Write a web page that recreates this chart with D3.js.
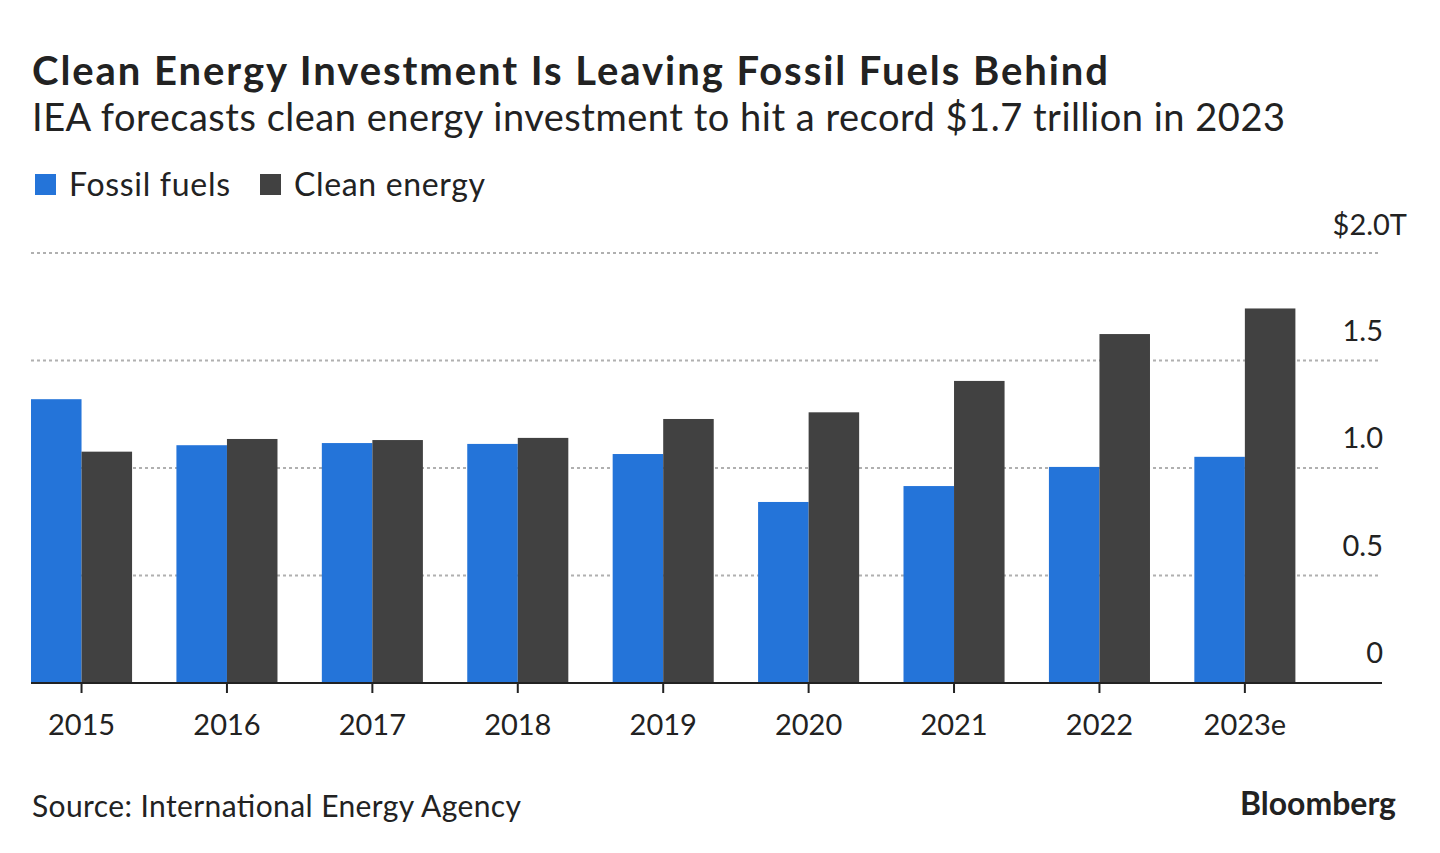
<!DOCTYPE html>
<html>
<head>
<meta charset="utf-8">
<script src="https://cdn.jsdelivr.net/npm/d3@7"></script>
<style>
  body { margin: 0; background: #fff; }
  text { font-family: Lato, "Noto Sans", sans-serif; fill: #222; }
</style>
</head>
<body>
<div id="chart"></div>
<script>
// Data (USD trillions)
var years = ["2015", "2016", "2017", "2018", "2019", "2020", "2021", "2022", "2023e"];
var fossil = [1.32, 1.106, 1.116, 1.112, 1.065, 0.842, 0.916, 1.005, 1.052];
var clean = [1.076, 1.135, 1.13, 1.14, 1.228, 1.259, 1.405, 1.623, 1.742];
var yTicks = [0, 0.5, 1.0, 1.5, 2.0];
var seriesNames = ["Fossil fuels", "Clean energy"];
var colors = ["#2474d9", "#414141"];

var width = 1440, height = 853;

var svg = d3.select("#chart")
    .append("svg")
    .attr("width", width)
    .attr("height", height);

// Scales
var x = d3.scaleBand()
    .domain(years)
    .range([31, 1295.4])
    .paddingInner(0.305)
    .paddingOuter(0);

var x1 = d3.scaleBand()
    .domain(seriesNames)
    .range([0, x.bandwidth()]);

var y = d3.scaleLinear()
    .domain([0, 2])
    .range([683, 253]);

// Grid lines
svg.append("g")
    .selectAll("line")
    .data(yTicks.filter(t => t > 0))
    .enter()
    .append("line")
    .attr("x1", 31)
    .attr("x2", 1381)
    .attr("y1", d => y(d))
    .attr("y2", d => y(d))
    .attr("stroke", "#b0b0b0")
    .attr("stroke-width", 2)
    .attr("stroke-dasharray", "3,3");

// Bars
var groups = svg.append("g")
    .selectAll("g")
    .data(years)
    .enter()
    .append("g")
    .attr("transform", d => "translate(" + x(d) + ",0)");

groups.append("rect")
    .attr("x", x1("Fossil fuels"))
    .attr("width", x1.bandwidth())
    .attr("y", (d, i) => y(fossil[i]))
    .attr("height", (d, i) => y(0) - y(fossil[i]))
    .attr("fill", colors[0]);

groups.append("rect")
    .attr("x", x1("Clean energy"))
    .attr("width", x1.bandwidth())
    .attr("y", (d, i) => y(clean[i]))
    .attr("height", (d, i) => y(0) - y(clean[i]))
    .attr("fill", colors[1]);

// X axis
var xAxis = svg.append("g")
    .attr("transform", "translate(0," + y(0) + ")")
    .call(d3.axisBottom(x).tickSize(10).tickPadding(21).tickSizeOuter(0));
xAxis.select(".domain").remove();
xAxis.selectAll(".tick line").attr("stroke", "#222").attr("stroke-width", 2);
xAxis.selectAll(".tick text")
    .attr("font-size", 29)
    .attr("font-family", "Lato, sans-serif")
    .attr("fill", "#222");
xAxis.append("line")
    .attr("x1", 31)
    .attr("x2", 1382)
    .attr("stroke", "#222")
    .attr("stroke-width", 2);

// Y labels
svg.append("g")
    .selectAll("text")
    .data(yTicks)
    .enter()
    .append("text")
    .attr("x", d => d === 2 ? 1407 : 1383)
    .attr("y", d => y(d) - (d === 2 ? 18 : 20))
    .attr("text-anchor", "end")
    .attr("font-size", 29)
    .text(d => d === 0 ? "0" : d === 2 ? "$2.0T" : d.toFixed(1));

// Titles
svg.append("text")
    .attr("x", 32)
    .attr("y", 85)
    .attr("font-size", 40)
    .attr("font-weight", "bold")
    .attr("fill", "#111")
    .attr("textLength", 1076)
    .attr("lengthAdjust", "spacing")
    .text("Clean Energy Investment Is Leaving Fossil Fuels Behind");

svg.append("text")
    .attr("x", 32)
    .attr("y", 131)
    .attr("font-size", 38)
    .attr("textLength", 1253)
    .attr("lengthAdjust", "spacing")
    .text("IEA forecasts clean energy investment to hit a record $1.7 trillion in 2023");

// Legend
var legendX = [35, 260];
var legendW = [161, 191];
seriesNames.forEach(function (name, i) {
    svg.append("rect")
        .attr("x", legendX[i])
        .attr("y", 174)
        .attr("width", 21)
        .attr("height", 21)
        .attr("fill", colors[i]);
    svg.append("text")
        .attr("x", legendX[i] + 34)
        .attr("y", 196)
        .attr("font-size", 32)
        .attr("fill", "#333")
        .attr("textLength", legendW[i])
        .attr("lengthAdjust", "spacing")
        .text(name);
});

// Footer
svg.append("text")
    .attr("x", 32)
    .attr("y", 817)
    .attr("font-size", 30)
    .attr("fill", "#333")
    .attr("textLength", 489)
    .attr("lengthAdjust", "spacing")
    .text("Source: International Energy Agency");

svg.append("text")
    .attr("x", 1240)
    .attr("y", 815)
    .attr("font-size", 32)
    .attr("font-weight", "bold")
    .attr("font-family", "Inter, sans-serif")
    .attr("textLength", 156)
    .attr("lengthAdjust", "spacingAndGlyphs")
    .attr("fill", "#111")
    .text("Bloomberg");
</script>
</body>
</html>
